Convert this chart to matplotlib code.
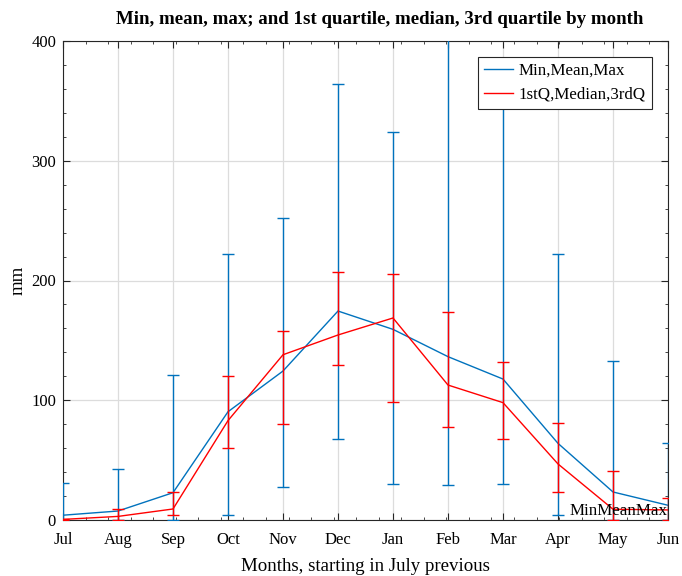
import matplotlib
matplotlib.use("Agg")
import matplotlib.pyplot as plt
from matplotlib.ticker import MultipleLocator
from matplotlib.lines import Line2D
import numpy as np

months = ["Jul", "Aug", "Sep", "Oct", "Nov", "Dec", "Jan", "Feb", "Mar", "Apr", "May", "Jun"]
mean_vals = [4, 7.5, 22.8, 90.4, 124.4, 174.5, 159.2, 136.4, 117.7, 64, 23.4, 12.3]
min_vals = [0, 0, 0, 4, 27.3, 67.4, 29.8, 29.2, 30.3, 4, 0, 0]
max_vals = [31, 42.3, 121, 222.5, 252.5, 364, 324, 420, 360, 222.4, 133, 64.6]
median_vals = [0.5, 3, 9.2, 83, 138, 154.5, 168.7, 112.7, 98, 46.8, 9, 8.4]
q1_vals = [0, 0, 4.4, 60, 80, 129.7, 98.5, 78, 67.9, 23, 0, 0]
q3_vals = [0.5, 9, 23.7, 120.5, 157.6, 207, 205.7, 174, 132.2, 81, 41, 18.4]

plt.rcParams['font.family'] = ['Liberation Serif', 'DejaVu Serif']
plt.rcParams['font.size'] = 12

fig = plt.figure(figsize=(6.82, 5.76), dpi=100)
ax = fig.add_axes([63/682, 1-520/576, (668-63)/682, (520-41)/576])

x = np.arange(len(months))
mean_a = np.array(mean_vals)
blue = '#0072BD'
red = '#FF0000'

ax.errorbar(x, mean_a, yerr=[mean_a - np.array(min_vals), np.array(max_vals) - mean_a],
            color=blue, ecolor=blue, lw=1.0, elinewidth=1.0, capsize=4.3,
            capthick=1.0, zorder=3)
med_a = np.array(median_vals)
ax.errorbar(x, med_a, yerr=[med_a - np.array(q1_vals), np.array(q3_vals) - med_a],
            color=red, ecolor=red, lw=1.0, elinewidth=1.0, capsize=4.3,
            capthick=1.0, zorder=4)

ax.set_xlim(0, len(months) - 1)
ax.set_ylim(0, 400)
ax.set_xticks(x)
ax.set_xticklabels(months)
ax.set_yticks([0, 100, 200, 300, 400])
ax.yaxis.set_minor_locator(MultipleLocator(20))
ax.xaxis.set_minor_locator(MultipleLocator(0.41))
ax.grid(True, which='major', color='#dcdcdc', lw=0.9)
ax.set_axisbelow(True)
ax.tick_params(which='both', direction='in', top=True, right=True, labelsize=12,
               color='#262626')
ax.tick_params(which='major', length=5)
ax.tick_params(which='minor', length=2.5)
for s in ax.spines.values():
    s.set_color('#262626')
    s.set_linewidth(0.8)
ax.tick_params(axis='x', pad=9)
ax.tick_params(axis='y', pad=5)

ax.set_title('Min, mean, max; and 1st quartile, median, 3rd quartile by month',
             fontweight='bold', fontsize=13.6, pad=12, x=0.524)
ax.set_xlabel('Months, starting in July previous', fontsize=13.6, labelpad=7)
ax.set_ylabel('mm', fontsize=13.6, labelpad=3)

handles = [Line2D([], [], color=blue, lw=1.0), Line2D([], [], color=red, lw=1.0)]
labels = ['Min,Mean,Max', '1stQ,Median,3rdQ']
leg = ax.legend(handles, labels, loc='upper right', fontsize=12.2, frameon=True,
                fancybox=False, edgecolor='#262626', framealpha=1,
                borderaxespad=0.95, handlelength=1.7, borderpad=0.35,
                labelspacing=0.45, handletextpad=0.35)
leg.get_frame().set_linewidth(0.8)
leg.set_zorder(10)

ax.text(1.0, 0.003, 'MinMeanMax', transform=ax.transAxes, ha='right', va='bottom',
        fontsize=12.2, zorder=6)

fig.savefig('out.png', dpi=100)
